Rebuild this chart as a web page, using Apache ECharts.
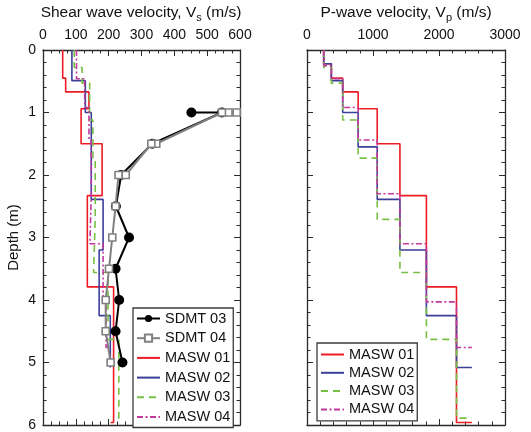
<!DOCTYPE html>
<html><head><meta charset="utf-8">
<script src="https://cdn.jsdelivr.net/npm/echarts@6/dist/echarts.min.js"></script>
<style>html,body{margin:0;padding:0;background:#fff}#c{width:531px;height:432px}</style>
</head><body><div id="c"></div>
<script>
// MASW layered profiles: layer bottom depths (m); velocities per layer (last value = half-space)
const m01Depth = [0.22, 0.45, 0.67, 0.94, 1.50, 2.33, 3.79, 5.96];
const m01Vs = [60, 60, 69, 140, 116, 180, 135, 215, 206];
const m01Vp = [253, 369, 541, 775, 1064, 1408, 1809, 2265, 2498];

const m02Depth = [0.22, 0.49, 1.00, 1.55, 2.39, 3.20, 4.25, 5.08];
const m02Vs = [88, 88, 129, 147, 147, 183, 171, 205, 205];
const m02Vp = [253, 369, 541, 775, 1064, 1408, 1809, 2265, 2498];

const m03Depth = [0.28, 0.53, 1.12, 1.73, 2.71, 3.56, 4.63, 5.89];
const m03Vs = [95, 119, 142, 152, 159, 154, 198, 231, 218];
const m03Vp = [253, 369, 541, 775, 1064, 1408, 1809, 2265, 2498];

const m04Depth = [0.25, 0.46, 0.92, 1.44, 2.30, 3.10, 4.03, 4.76];
const m04Vs = [102, 102, 127, 140, 147, 143, 183, 192, 200];
const m04Vp = [253, 369, 541, 775, 1064, 1408, 1809, 2265, 2498];

// SDMT measurements
const sdmt03Depth = [1.0, 1.0, 1.5, 2.0, 2.5, 3.0, 3.5, 4.0, 4.5, 5.0];
const sdmt03Vs = [452, 545, 333, 238, 222, 262, 221, 232, 221, 242];
const sdmt04Depth = [1.0, 1.0, 1.0, 1.5, 1.5, 2.0, 2.0, 2.5, 3.0, 3.5, 4.0, 4.5, 5.0];
const sdmt04Vs = [590, 565, 545, 345, 330, 252, 230, 221, 211, 201, 191, 191, 206];

const seriesNames = ['SDMT 03', 'SDMT 04', 'MASW 01', 'MASW 02', 'MASW 03', 'MASW 04'];

function steps(depths, vels) {
  const pts = [[vels[0], 0]];
  for (let i = 0; i < depths.length; i++) {
    pts.push([vels[i], depths[i]]);
    pts.push([vels[i + 1], depths[i]]);
  }
  return pts;
}
function pairs(vels, depths) { return vels.map((v, i) => [v, depths[i]]); }

const FONT = 'Liberation Sans, Arial, sans-serif';
const AX = '#2b2b2b';

function xAx(grid, max, interval, split, top, labels) {
  return {
    type: 'value', gridIndex: grid, min: 0, max: max, interval: interval,
    position: top ? 'top' : 'bottom',
    axisLine: { show: true, onZero: false, lineStyle: { color: AX, width: 1.3 } },
    axisTick: { show: true, inside: true, length: 6, lineStyle: { color: AX, width: 1 } },
    minorTick: { show: true, splitNumber: split, length: 3.5, lineStyle: { color: AX, width: 1 } },
    axisLabel: { show: labels, margin: 8, color: '#111', fontSize: 14, fontFamily: FONT,
      formatter: v => String(v) },
    splitLine: { show: false }
  };
}
function yAx(grid, right, labels, name) {
  return {
    type: 'value', gridIndex: grid, min: 0, max: 6, interval: 1, inverse: true,
    position: right ? 'right' : 'left',
    name: name || '', nameLocation: 'middle', nameGap: 22, nameRotate: 90,
    nameTextStyle: { color: '#111', fontSize: 15, fontFamily: FONT },
    axisLine: { show: true, onZero: false, lineStyle: { color: AX, width: 1.3 } },
    axisTick: { show: true, inside: true, length: 6, lineStyle: { color: AX, width: 1 } },
    minorTick: { show: true, splitNumber: 5, length: 3.5, lineStyle: { color: AX, width: 1 } },
    axisLabel: { show: labels, margin: 7, color: '#111', fontSize: 14, fontFamily: FONT },
    splitLine: { show: false }
  };
}

const COL = { m01: '#ec1c24', m02: '#3a3f98', m03: '#77c043', m04: '#c2399d' };
function masw(name, data, col, type, x, y) {
  return {
    name: name, type: 'line', xAxisIndex: x, yAxisIndex: y, data: data,
    symbol: 'none', lineStyle: { color: col, width: 1.6, type: type }, itemStyle: { color: col },
    animation: false, z: 2
  };
}

function legendItems(names) {
  return names.map(n => n.indexOf('MASW') === 0 ? { name: n, itemStyle: { opacity: 0 } } : { name: n });
}

const chart = echarts.init(document.getElementById('c'), null, { renderer: 'canvas' });
const legendCommon = {
  orient: 'vertical', backgroundColor: '#fff', borderColor: '#3a3a3a', borderWidth: 1.3,
  borderRadius: 0, itemWidth: 23, itemHeight: 9, itemGap: 4.7,
  textStyle: { color: '#111', fontSize: 14.5, fontFamily: FONT, lineHeight: 14 },
  selectedMode: false
};
chart.setOption({
  animation: false,
  backgroundColor: '#fff',
  grid: [
    { left: 43, top: 50, width: 197, height: 375 },
    { left: 307, top: 50, width: 198, height: 375 }
  ],
  xAxis: [
    xAx(0, 600, 100, 4, true, true), xAx(0, 600, 100, 4, false, false),
    xAx(1, 3000, 1000, 5, true, true), xAx(1, 3000, 1000, 5, false, false)
  ],
  yAxis: [
    yAx(0, false, true, 'Depth (m)'), yAx(0, true, false),
    yAx(1, false, false), yAx(1, true, false)
  ],
  legend: [
    Object.assign({}, legendCommon, {
      left: 133, top: 308, padding: [3, 3, 3, 3],
      data: legendItems(seriesNames)
    }),
    Object.assign({}, legendCommon, {
      left: 317, top: 343, padding: [4, 3, 4, 3], itemGap: 3.3,
      data: legendItems(seriesNames.slice(2))
    })
  ],
  graphic: [
    { type: 'text', x: 141, y: 3, style: { text: '{a|Shear wave velocity, V}{b|s}{a| (m/s)}', align: 'center',
      rich: { a: { fontSize: 15.5, fontFamily: FONT, fill: '#111', lineHeight: 20, verticalAlign: 'middle' },
              b: { fontSize: 11, fontFamily: FONT, fill: '#111', lineHeight: 10, verticalAlign: 'bottom' } } } },
    { type: 'text', x: 406, y: 3, style: { text: '{a|P-wave velocity, V}{b|p}{a| (m/s)}', align: 'center',
      rich: { a: { fontSize: 15.5, fontFamily: FONT, fill: '#111', lineHeight: 20, verticalAlign: 'middle' },
              b: { fontSize: 11, fontFamily: FONT, fill: '#111', lineHeight: 10, verticalAlign: 'bottom' } } } }
  ],
  series: [
    masw('MASW 01', steps(m01Depth, m01Vs), COL.m01, 'solid', 0, 0),
    masw('MASW 02', steps(m02Depth, m02Vs), COL.m02, 'solid', 0, 0),
    masw('MASW 03', steps(m03Depth, m03Vs), COL.m03, [7, 5], 0, 0),
    masw('MASW 04', steps(m04Depth, m04Vs), COL.m04, [6, 2.5, 2, 2.5], 0, 0),
    {
      name: 'SDMT 03', type: 'line', xAxisIndex: 0, yAxisIndex: 0, data: pairs(sdmt03Vs, sdmt03Depth),
      symbol: 'circle', symbolSize: 10, lineStyle: { color: '#000', width: 2 },
      itemStyle: { color: '#000' }, z: 3
    },
    {
      name: 'SDMT 04', type: 'line', xAxisIndex: 0, yAxisIndex: 0, data: pairs(sdmt04Vs, sdmt04Depth),
      symbol: 'rect', symbolSize: 7, lineStyle: { color: '#808080', width: 2 },
      itemStyle: { color: '#fff', borderColor: '#808080', borderWidth: 1.6 }, z: 4
    },
    masw('MASW 01', steps(m01Depth, m01Vp), COL.m01, 'solid', 2, 2),
    masw('MASW 02', steps(m02Depth, m02Vp), COL.m02, 'solid', 2, 2),
    masw('MASW 03', steps(m03Depth, m03Vp), COL.m03, [7, 5], 2, 2),
    masw('MASW 04', steps(m04Depth, m04Vp), COL.m04, [6, 2.5, 2, 2.5], 2, 2)
  ]
});
</script>
</body></html>
